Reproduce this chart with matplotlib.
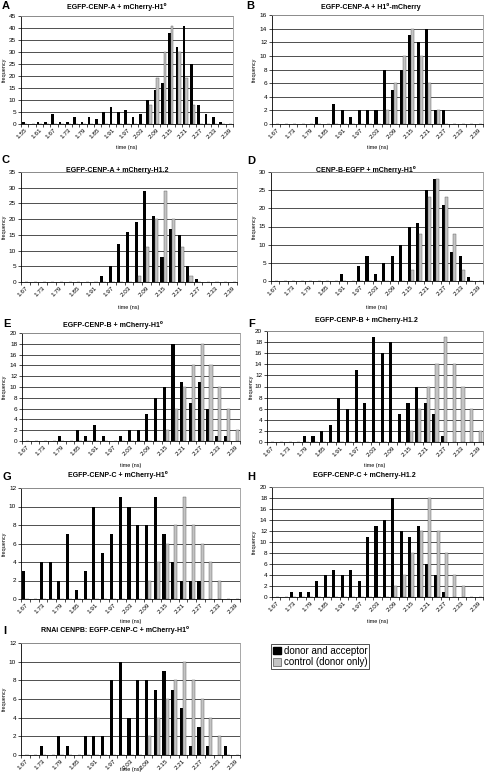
import numpy as np
import matplotlib.pyplot as plt

plt.rcParams['font.family'] = ['Liberation Sans', 'DejaVu Sans']

# time bins (ns)
bins_A = ['1.55', '1.58', '1.61', '1.64', '1.67', '1.70', '1.73', '1.76', '1.79', '1.82',
          '1.85', '1.88', '1.91', '1.94', '1.97', '2.00', '2.03', '2.06', '2.09', '2.12',
          '2.15', '2.18', '2.21', '2.24', '2.27', '2.30', '2.33', '2.36', '2.39']
bins = ['1.67', '1.70', '1.73', '1.76', '1.79', '1.82', '1.85', '1.88', '1.91', '1.94',
        '1.97', '2.00', '2.03', '2.06', '2.09', '2.12', '2.15', '2.18', '2.21', '2.24',
        '2.27', '2.30', '2.33', '2.36', '2.39']

A_fret = [1, 0, 1, 1, 4, 1, 1, 3, 1, 3, 2, 5, 7, 5, 6, 3, 4, 10, 14, 17, 38, 32, 41, 25, 8, 4, 3, 1, 0]
A_ctrl = [0, 0, 0, 0, 0, 0, 0, 0, 0, 0, 0, 0, 0, 0, 0, 0, 0, 8, 19, 30, 41, 30, 19, 8, 0, 0, 0, 0, 0]
B_fret = [0, 0, 0, 0, 0, 1, 0, 3, 2, 1, 2, 2, 2, 8, 5, 8, 13, 12, 14, 2, 2, 0, 0, 0, 0]
B_ctrl = [0, 0, 0, 0, 0, 0, 0, 0, 0, 0, 0, 0, 0, 2, 6, 10, 14, 10, 6, 2, 0, 0, 0, 0, 0]
C_fret = [0, 0, 0, 0, 0, 0, 0, 0, 0, 2, 5, 12, 16, 19, 29, 21, 8, 17, 15, 5, 1, 0, 0, 0, 0]
C_ctrl = [0, 0, 0, 0, 0, 0, 0, 0, 0, 0, 0, 0, 0, 2, 11, 20, 29, 20, 11, 2, 0, 0, 0, 0, 0]
D_fret = [0, 0, 0, 0, 0, 0, 0, 0, 2, 0, 4, 7, 2, 5, 7, 10, 15, 16, 25, 28, 21, 8, 7, 1, 0]
D_ctrl = [0, 0, 0, 0, 0, 0, 0, 0, 0, 0, 0, 0, 0, 0, 0, 0, 3, 13, 23, 28, 23, 13, 3, 0, 0]
E_fret = [0, 0, 0, 0, 1, 0, 2, 1, 3, 1, 0, 1, 2, 2, 5, 8, 10, 18, 11, 7, 11, 6, 1, 1, 0]
E_ctrl = [0, 0, 0, 0, 0, 0, 0, 0, 0, 0, 0, 0, 0, 0, 0, 0, 2, 6, 10, 14, 18, 14, 10, 6, 2]
F_fret = [0, 0, 0, 0, 1, 1, 2, 3, 8, 6, 13, 7, 19, 16, 18, 5, 7, 10, 7, 5, 1, 0, 0, 0, 0]
F_ctrl = [0, 0, 0, 0, 0, 0, 0, 0, 0, 0, 0, 0, 0, 0, 0, 0, 2, 6, 10, 14, 19, 14, 10, 6, 2]
G_fret = [3, 0, 4, 4, 2, 7, 1, 3, 10, 5, 7, 11, 10, 8, 8, 11, 7, 4, 2, 2, 2, 0, 0, 0, 0]
G_ctrl = [0, 0, 0, 0, 0, 0, 0, 0, 0, 0, 0, 0, 0, 0, 2, 4, 6, 8, 11, 8, 6, 4, 2, 0, 0]
H_fret = [0, 0, 1, 1, 1, 3, 4, 5, 4, 5, 3, 11, 13, 14, 18, 12, 11, 13, 6, 4, 1, 0, 0, 0, 0]
H_ctrl = [0, 0, 0, 0, 0, 0, 0, 0, 0, 0, 0, 0, 0, 0, 2, 4, 8, 12, 18, 12, 8, 4, 2, 0, 0]
I_fret = [0, 0, 1, 0, 2, 1, 0, 2, 2, 2, 8, 10, 4, 8, 8, 7, 9, 7, 5, 1, 3, 1, 0, 1, 0]
I_ctrl = [0, 0, 0, 0, 0, 0, 0, 0, 0, 0, 0, 0, 0, 0, 2, 4, 6, 8, 10, 8, 6, 4, 2, 0, 0]

W, H = 489, 783
fig = plt.figure(figsize=(W / 100, H / 100), dpi=100)

CTRL = '#c4c4c4'


def px(x, y):
    return x / W, 1 - y / H


def panel(rect, cats, fret, ctrl, ymax, ystep, letter, lpos, title, tpos, xlab_y, ylab_x):
    l, t, r, b = rect
    ax = fig.add_axes([l / W, 1 - b / H, (r - l) / W, (b - t) / H])
    x = np.arange(len(cats))
    w = 0.36
    ax.bar(x - w / 2, fret, w, color='black', zorder=3)
    ax.bar(x + w / 2, ctrl, w, color=CTRL, edgecolor='#555555', linewidth=0.3, zorder=3)
    ax.set_xlim(-0.5, len(cats) - 0.5)
    ax.set_ylim(0, ymax)
    ax.set_yticks(np.arange(0, ymax + 0.1, ystep))
    ax.set_xticks(x[::2])
    ax.set_xticklabels(cats[::2], rotation=45, ha='right', rotation_mode='anchor')
    ax.set_xticks(np.arange(len(cats) + 1) - 0.5, minor=True)
    ax.tick_params(axis='x', which='major', length=0, labelsize=4.6, pad=2.5)
    ax.tick_params(axis='x', which='minor', length=2, width=0.5)
    ax.tick_params(axis='y', labelsize=4.6, length=2, width=0.5, pad=1.5)
    ax.grid(axis='y', color='#333333', linewidth=0.6, zorder=0)
    ax.set_axisbelow(True)
    for s in ['top', 'right']:
        ax.spines[s].set_color('#999999')
        ax.spines[s].set_linewidth(0.6)
    for s in ['left', 'bottom']:
        ax.spines[s].set_color('black')
        ax.spines[s].set_linewidth(0.6)
    fig.text(*px(*lpos), letter, fontsize=8, fontweight='bold', ha='left', va='top')
    fig.text(*px(*tpos), title, fontsize=5, fontweight='bold', ha='center', va='center')
    fig.text(*px((l + r) / 2, xlab_y), 'time (ns)', fontsize=4, ha='center', va='center')
    fig.text(*px(ylab_x, (t + b) / 2), 'frequency', fontsize=4, rotation=90,
             ha='center', va='center')
    return ax


panel((21, 16, 233, 124), bins_A, A_fret, A_ctrl, 45, 5, 'A', (2, 1),
      'EGFP-CENP-A + mCherry-H1⁰', (117, 7), 147, 4)
panel((272, 15, 483, 124), bins, B_fret, B_ctrl, 16, 2, 'B', (246, 1),
      'EGFP-CENP-A + H1⁰-mCherry', (371, 7), 147, 254)
panel((21, 172, 237, 282), bins, C_fret, C_ctrl, 35, 5, 'C', (2, 155),
      'EGFP-CENP-A + mCherry-H1.2', (117, 170), 307, 4)
panel((271, 172, 483, 281), bins, D_fret, D_ctrl, 30, 5, 'D', (247, 156),
      'CENP-B-EGFP + mCherry-H1⁰', (366, 170), 307, 254)
panel((22, 333, 240, 441), bins, E_fret, E_ctrl, 20, 2, 'E', (3, 319),
      'EGFP-CENP-B + mCherry-H1⁰', (113, 325), 465, 4)
panel((267, 331, 483, 442), bins, F_fret, F_ctrl, 20, 2, 'F', (248, 319),
      'EGFP-CENP-B + mCherry-H1.2', (366, 321), 465, 251)
panel((21, 488, 240, 599), bins, G_fret, G_ctrl, 12, 2, 'G', (3, 472),
      'EGFP-CENP-C + mCherry-H1⁰', (118, 475), 622, 4)
panel((272, 487, 483, 597), bins, H_fret, H_ctrl, 20, 2, 'H', (247, 472),
      'EGFP-CENP-C + mCherry-H1.2', (364, 475), 622, 254)
panel((21, 643, 240, 755), bins, I_fret, I_ctrl, 12, 2, 'I', (3, 626),
      'RNAi CENPB: EGFP-CENP-C + mCherry-H1⁰', (115, 630), 770, 4)

handles = [plt.Rectangle((0, 0), 1, 1, color='black'),
           plt.Rectangle((0, 0), 1, 1, facecolor=CTRL, edgecolor='#555555', linewidth=0.5)]
leg = fig.legend(handles, ['donor and acceptor', 'control (donor only)'],
                 loc='upper left', bbox_to_anchor=px(271, 644), fontsize=7,
                 frameon=True, fancybox=False, edgecolor='black', borderpad=0.2,
                 handlelength=0.8, handleheight=0.8, handletextpad=0.3,
                 labelspacing=0.15, borderaxespad=0)
leg.get_frame().set_linewidth(0.6)

fig.savefig('out.png', dpi=100)
